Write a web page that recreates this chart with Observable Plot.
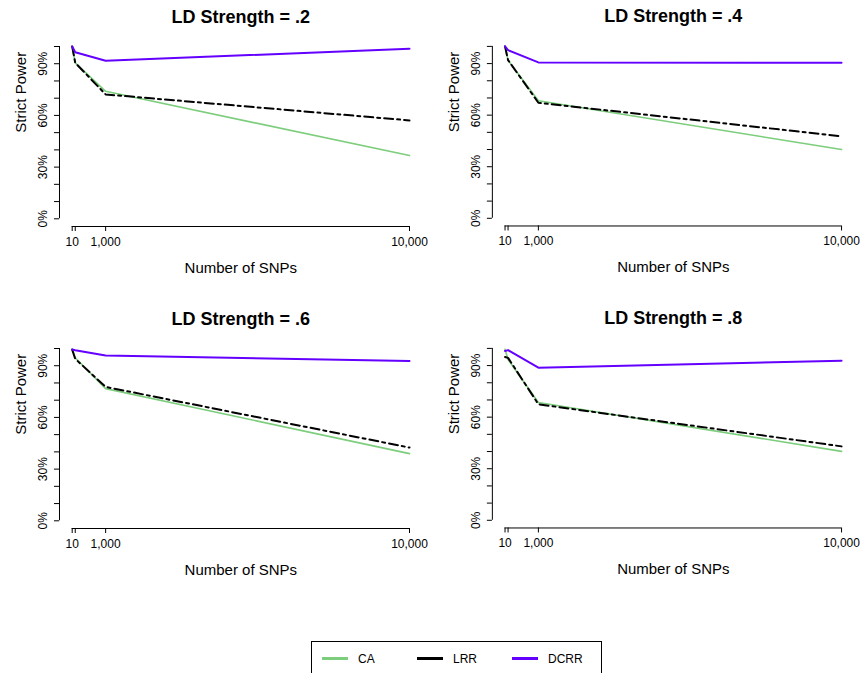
<!DOCTYPE html>
<html>
<head>
<meta charset="utf-8">
<script src="https://cdn.jsdelivr.net/npm/d3@7"></script>
<script src="https://cdn.jsdelivr.net/npm/@observablehq/plot@0.6"></script>
<style>
html, body { margin: 0; padding: 0; background: #fff; }
#root { position: relative; width: 864px; height: 673px; overflow: hidden; font-family: "Liberation Sans", Arial, sans-serif; background: #fff; }
.panel { position: absolute; }
#legend { position: absolute; left: 311px; top: 641px; width: 291px; height: 44px; border: 1px solid #000; box-sizing: border-box; background: #fff; }
.key { position: absolute; top: 15px; width: 26px; height: 3px; }
.lab { position: absolute; top: 10px; font-size: 12px; line-height: 14px; color: #000; }
</style>
</head>
<body>
<div id="root"></div>
<script>
// ---- data ----
const snps = [10, 100, 1000, 10000];
const ldLabels = [".2", ".4", ".6", ".8"];
const methods = ["CA", "LRR", "DCRR"];
const methodColors = ["#7CCD7C", "#000000", "#6400FF"];

// strict power per LD strength panel (.2, .4, .6, .8), at 10, 100, 1000, 10000 SNPs
const CA = [
  [1.000, 0.905, 0.740, 0.367],
  [1.000, 0.920, 0.684, 0.400],
  [0.997, 0.946, 0.767, 0.390],
  [0.995, 0.935, 0.685, 0.401]
];
const LRR = [
  [1.000, 0.905, 0.722, 0.571],
  [1.000, 0.920, 0.672, 0.477],
  [0.993, 0.940, 0.777, 0.425],
  [0.950, 0.945, 0.675, 0.430]
];
const DCRR = [
  [1.000, 0.967, 0.917, 0.987],
  [1.000, 0.978, 0.907, 0.905],
  [0.994, 0.990, 0.959, 0.928],
  [0.985, 0.990, 0.888, 0.928]
];

const xTicks = [10, 100, 1000, 10000];
const xTickLabels = ["10", "", "1,000", "10,000"];
const yTicks = [0, 0.1, 0.2, 0.3, 0.4, 0.5, 0.6, 0.7, 0.8, 0.9, 1];
const yTickLabels = ["0%", "", "", "30%", "", "", "60%", "", "", "90%", ""];

// ---- layout ----
const root = document.getElementById("root");
const panelLeft = [0, 433, 0, 433];
const panelTop = [0, 0, 301.5, 301.5];
const seriesData = [CA, LRR, DCRR];
const seriesStyle = [
  {strokeWidth: 1.6},
  {strokeWidth: 2, strokeDasharray: "9,4,3,4"},
  {strokeWidth: 2}
];

ldLabels.forEach((ld, p) => {
  const rows = [];
  methods.forEach((m, k) => {
    snps.forEach((s, i) => rows.push({snps: s, power: seriesData[k][p][i], method: m}));
  });
  const lineMarks = methods.map((m, k) =>
    Plot.line(rows.filter(r => r.method === m), {
      x: "snps", y: "power", stroke: methodColors[k], ...seriesStyle[k]
    })
  );
  const chart = Plot.plot({
    width: 432,
    height: 290,
    marginLeft: 71.7,
    marginRight: 23,
    marginTop: 46,
    marginBottom: 71.7,
    x: {domain: [snps[0], snps[snps.length - 1]]},
    y: {domain: [0, 1]},
    style: {fontFamily: "'Liberation Sans', Arial, sans-serif", background: "transparent", overflow: "visible", color: "#000"},
    marks: [
      Plot.axisY({ticks: yTicks, tickFormat: d => yTickLabels[yTicks.indexOf(d)], tickSize: 5, tickPadding: 7.3, tickRotate: -90, dx: -12.7, fontSize: 12, label: null}),
      Plot.ruleX([snps[0]], {y1: 0, y2: 1, dx: -12.7, stroke: "#000", strokeWidth: 1}),
      Plot.axisX({ticks: xTicks, tickFormat: d => xTickLabels[xTicks.indexOf(d)], tickSize: 5, tickPadding: 6, dy: 7.7, fontSize: 12, label: null}),
      Plot.ruleY([0], {x1: snps[0], x2: snps[snps.length - 1], dy: 7.7, stroke: "#000", strokeWidth: 1}),
      ...lineMarks,
      Plot.text([`LD Strength = ${ld}`], {frameAnchor: "top", dy: -24, lineAnchor: "bottom", fontSize: 18, fontWeight: "bold"}),
      Plot.text(["Strict Power"], {frameAnchor: "left", rotate: -90, dx: -46.2, lineAnchor: "bottom", fontSize: 15}),
      Plot.text(["Number of SNPs"], {frameAnchor: "bottom", dy: 53.7, lineAnchor: "bottom", fontSize: 15})
    ]
  });
  const wrap = document.createElement("div");
  wrap.className = "panel";
  wrap.style.left = panelLeft[p] + "px";
  wrap.style.top = panelTop[p] + "px";
  wrap.appendChild(chart);
  root.appendChild(wrap);
});

// ---- legend ----
const legend = document.createElement("div");
legend.id = "legend";
const keyLeft = [10, 105, 200];
methods.forEach((m, k) => {
  const key = document.createElement("div");
  key.className = "key";
  key.style.left = keyLeft[k] + "px";
  key.style.background = methodColors[k];
  legend.appendChild(key);
  const lab = document.createElement("div");
  lab.className = "lab";
  lab.style.left = (keyLeft[k] + 36) + "px";
  lab.textContent = m;
  legend.appendChild(lab);
});
root.appendChild(legend);
</script>
</body>
</html>
